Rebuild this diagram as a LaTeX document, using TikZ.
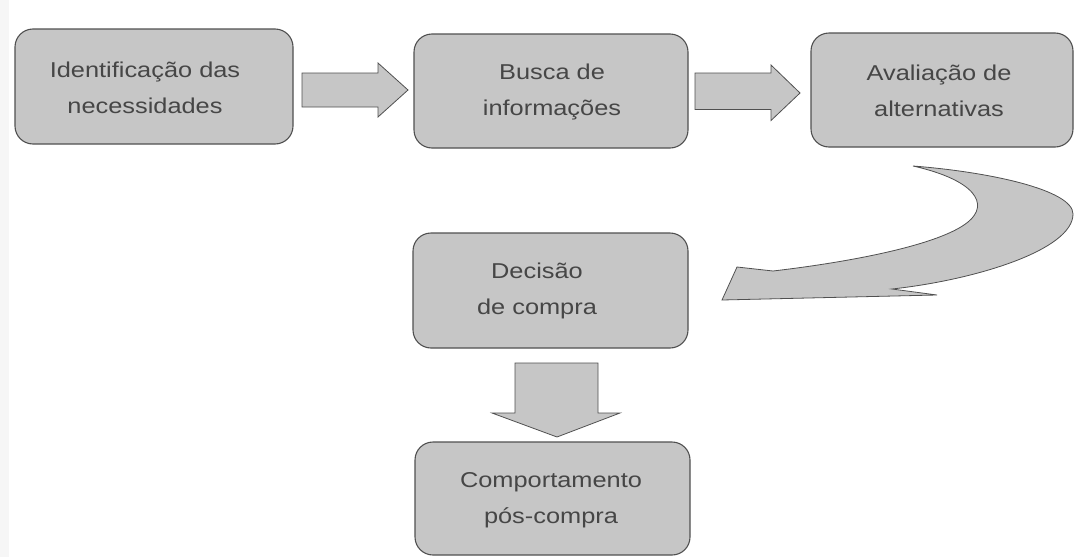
\documentclass[tikz,border=0pt]{standalone}
\usepackage{fontspec}
\setmainfont{Liberation Sans}[FakeStretch=1.18]
\usetikzlibrary{calc}
\definecolor{boxfill}{RGB}{198,198,198}
\definecolor{boxline}{RGB}{80,80,80}
\definecolor{txt}{RGB}{70,70,70}
\begin{document}
\begin{tikzpicture}[x=1pt,y=-1pt,
  stage/.style={draw=boxline, line width=1.1pt, fill=boxfill,
    rounded corners=18pt, inner sep=0pt, outer sep=0pt},
  stagetext/.style={text=txt, font=\fontsize{21.5}{36}\selectfont,
    align=center, inner sep=0pt},
  blockarrow/.style={draw=boxline, line width=0.8pt, fill=boxfill,
    line join=miter}
]
\useasboundingbox (0,0) rectangle (1075,557);
% faint shading along the left margin
\fill[gray!7] (0,0) rectangle (9,557);

% stages of the buying process
\node[stage, minimum width=278pt, minimum height=115pt] (ident) at (154,86.5) {};
\node[stage, minimum width=274pt, minimum height=114pt] (busca) at (551,91) {};
\node[stage, minimum width=262pt, minimum height=114pt] (aval) at (942,90) {};
\node[stage, minimum width=275pt, minimum height=115pt] (decis) at (550.5,290.5) {};
\node[stage, minimum width=275pt, minimum height=113pt] (comp) at (552.5,498.5) {};

\node[stagetext] (identtxt) at (145,88) {Identificação das\\necessidades};
\node[stagetext] (buscatxt) at (552,92) {Busca de\\informações};
\node[stagetext] (avaltxt) at (939,91) {Avaliação de\\alternativas};
\node[stagetext] (decistxt) at (537,291) {Decisão\\de compra};
\node[stagetext] (comptxt) at (551,500) {Comportamento\\pós-compra};

% block arrows between the stages (offsets from the box edges)
\draw[blockarrow] ($(ident.east)+(9,-13.5)$) -- ++(76,0) -- ++(0,-10)
  -- ++(30,27) -- ++(-30,27) -- ++(0,-10) -- ++(-76,0) -- cycle;
\draw[blockarrow] ($(busca.east)+(7,-18)$) -- ++(76,0) -- ++(0,-8)
  -- ++(29,28) -- ++(-29,27.5) -- ++(0,-11) -- ++(-76,0) -- cycle;
\draw[blockarrow] ($(decis.south)+(-35.5,15)$) -- ++(0,50) -- ++(-23,0)
  -- ++(65,24) -- ++(63,-24) -- ++(-22,0) -- ++(0,-50) -- cycle;

% curved block arrow from the evaluation stage back to the decision
\draw[blockarrow] (913,166)
  .. controls (990,172) and (1073,190) .. (1073,214)
  .. controls (1073,250) and (975,280) .. (892,289)
  -- (937,295) -- (722,300) -- (737,267) -- (773,271)
  .. controls (850,262) and (940,245) .. (968,222)
  .. controls (990,204) and (975,180) .. (913,166) -- cycle;
\end{tikzpicture}
\end{document}
